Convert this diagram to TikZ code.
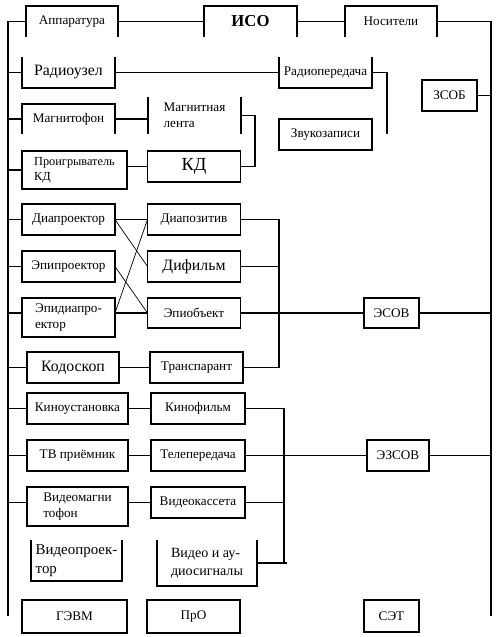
\documentclass[tikz,border=0pt]{standalone}
\usepackage{fontspec}
\setmainfont{Liberation Serif}
\usepackage{tikz}
\newcommand{\opentop}[1]{\draw (#1.north west) -- (#1.south west) -- (#1.south east) -- (#1.north east);}
\newcommand{\openbot}[1]{\draw (#1.south west) -- (#1.north west) -- (#1.north east) -- (#1.south east);}
\newcommand{\sidesonly}[1]{\draw (#1.north west) -- (#1.south west) (#1.north east) -- (#1.south east);}

\begin{document}
\begin{tikzpicture}[x=0.02cm, y=-0.02cm, line width=0.6pt,
	sm/.style={font=\fontsize{7.5}{9}\selectfont},
	md/.style={font=\fontsize{9}{10.5}\selectfont},
	bx/.style={draw, rectangle, minimum width=1.86cm, minimum height=0.62cm, inner sep=1pt, outer sep=0pt, align=left, sm},
	ob/.style={bx, draw=none},
	cr/.style={line width=0.4pt}]

	\fill[white] (0,0) rectangle (498,637);
	\coordinate (lbus) at (8,616);
	\coordinate (rbus) at (491,616);

	% --- верхний ряд ---
	\node[ob, minimum width=1.84cm] (app) at (72,21.5) {Аппаратура};
	\node[ob, font=\fontsize{9.5}{11}\selectfont\bfseries] (iso) at (250.5,21.5) {ИСО};
	\node[ob, minimum width=1.84cm] (nos) at (391,21.5) {Носители};
	\openbot{app} \openbot{iso} \openbot{nos}
	\draw (app.west) -| (lbus);
	\draw (app.east) -- (iso.west);
	\draw (iso.east) -- (nos.west);
	\draw (nos.east) -| (rbus);

	% --- звуковые ---
	\node[ob, md] (ru) at (68.5,72.5) {Радиоузел};
	\node[ob] (rpd) at (325.5,72.5) {Радиопередача};
	\opentop{ru} \opentop{rpd}
	\node[bx, minimum width=1.1cm] (zsob) at (449.5,95.5) {ЗСОБ};
	\node[ob, minimum height=0.6cm] (magf) at (68.5,119) {Магнитофон};
	\openbot{magf}
	\node[ob, minimum height=0.74cm] (ml) at (194.5,115.5) {Магнитная\\лента};
	\sidesonly{ml}
	\node[bx] (zvuk) at (325.5,134.5) {Звукозаписи};
	\node[bx, minimum width=2.1cm, minimum height=0.76cm, font=\fontsize{7}{8.5}\selectfont] (pkd) at (74.5,170) {Проигрыватель\\КД};
	\node[bx, font=\fontsize{10.5}{12}\selectfont] (kd) at (194,166.5) {КД};
	\coordinate (zend) at (387,134);
	\draw (lbus |- ru.west) -- (ru.west);
	\draw (ru.east) -- (rpd.west);
	\draw (rpd.east) -| (zend);
	\draw (zsob.east) -- (rbus |- zsob.east);
	\draw (lbus |- magf.west) -- (magf.west);
	\draw (magf.east) -- (magf.east -| ml.west);
	\draw (ml.east) -- ++(14,0) |- (kd.east);
	\draw (lbus |- pkd.west) -- (pkd.west);
	\draw (pkd.east |- kd.west) -- (kd.west);

	% --- экранные ---
	\node[bx] (diapr) at (68.5,219.5) {Диапроектор};
	\node[bx] (diapoz) at (194,219.5) {Диапозитив};
	\node[bx] (epipr) at (68.5,266.5) {Эпипроектор};
	\node[bx, md] (difilm) at (194,266.5) {Дифильм};
	\node[bx, minimum height=0.78cm] (epidia) at (68.5,317.5) {Эпидиапро-\\ектор};
	\node[bx, minimum height=0.6cm] (epiob) at (194,313) {Эпиобъект};
	\node[bx, minimum width=1.1cm, minimum height=0.6cm] (esov) at (391.5,313) {ЭСОВ};
	\node[bx, md, minimum width=1.84cm] (kodo) at (73,367.5) {Кодоскоп};
	\node[bx] (trans) at (196.5,367.5) {Транспарант};
	\coordinate (jE) at (279,0);
	\draw (lbus |- diapr.west) -- (diapr.west);
	\draw (lbus |- epipr.west) -- (epipr.west);
	\draw (lbus |- epiob.west) -- (epidia.west |- epiob.west);
	\draw (lbus |- kodo.west) -- (kodo.west);
	\draw (diapr.east) -- (diapoz.west);
	\draw[cr] (diapr.east) -- (difilm.west);
	\draw[cr] (epipr.east) -- (epiob.west);
	\draw[cr] (epidia.east |- epiob.west) -- (diapoz.west);
	\draw (epidia.east |- epiob.west) -- (epiob.west);
	\draw (epiob.east) -- (esov.west);
	\draw (esov.east) -- (rbus |- esov.east);
	\draw (diapoz.east) -| (jE |- trans.east) -- (trans.east);
	\draw (difilm.east) -- (jE |- difilm.east);
	\draw (kodo.east) -- (trans.west);

	% --- экранно-звуковые ---
	\node[bx, minimum width=2.02cm] (kinou) at (77.5,408.5) {Киноустановка};
	\node[bx, minimum width=1.88cm] (kinof) at (198,408.5) {Кинофильм};
	\node[bx, minimum width=2.02cm] (tv) at (77.5,455.5) {ТВ приёмник};
	\node[bx, minimum width=1.88cm] (telep) at (198,455.5) {Телепередача};
	\node[bx, minimum width=1.24cm] (ezsov) at (398,455.5) {ЭЗСОВ};
	\node[bx, minimum width=2.02cm, minimum height=0.78cm] (vmag) at (77.5,506.5) {Видеомагни\\тофон};
	\node[bx, minimum width=1.88cm] (vkass) at (198,502.5) {Видеокассета};
	\node[ob, font=\fontsize{8.5}{10.5}\selectfont, minimum width=1.82cm, minimum height=0.82cm] (vproj) at (76.5,560.5) {Видеопроек-\\тор};
	\node[ob, font=\fontsize{8}{10.5}\selectfont, minimum width=2cm, minimum height=0.92cm] (vaud) at (207,563) {Видео и ау-\\диосигналы};
	\opentop{vproj} \opentop{vaud}
	\coordinate (jV) at (284,0);
	\draw (lbus |- kinou.west) -- (kinou.west);
	\draw (lbus |- tv.west) -- (tv.west);
	\draw (lbus |- vkass.west) -- (vmag.west |- vkass.west);
	\draw (kinou.east) -- (kinof.west);
	\draw (tv.east) -- (telep.west);
	\draw (vmag.east |- vkass.west) -- (vkass.west);
	\draw (kinof.east) -| (jV |- vaud.east);
	\draw (vaud.east) -- ++(30,0);
	\draw (vkass.east) -- (jV |- vkass.east);
	\draw (telep.east) -- (ezsov.west);
	\draw (ezsov.east) -- (rbus |- ezsov.east);

	% --- нижний ряд ---
	\node[bx, minimum width=2.1cm, minimum height=0.66cm] (gevm) at (74.5,616.5) {ГЭВМ};
	\node[bx, minimum height=0.66cm] (pro) at (193.5,616.5) {ПрО};
	\node[bx, minimum width=1.1cm, minimum height=0.64cm] (set) at (391.5,616) {СЭТ};
\end{tikzpicture}
\end{document}
